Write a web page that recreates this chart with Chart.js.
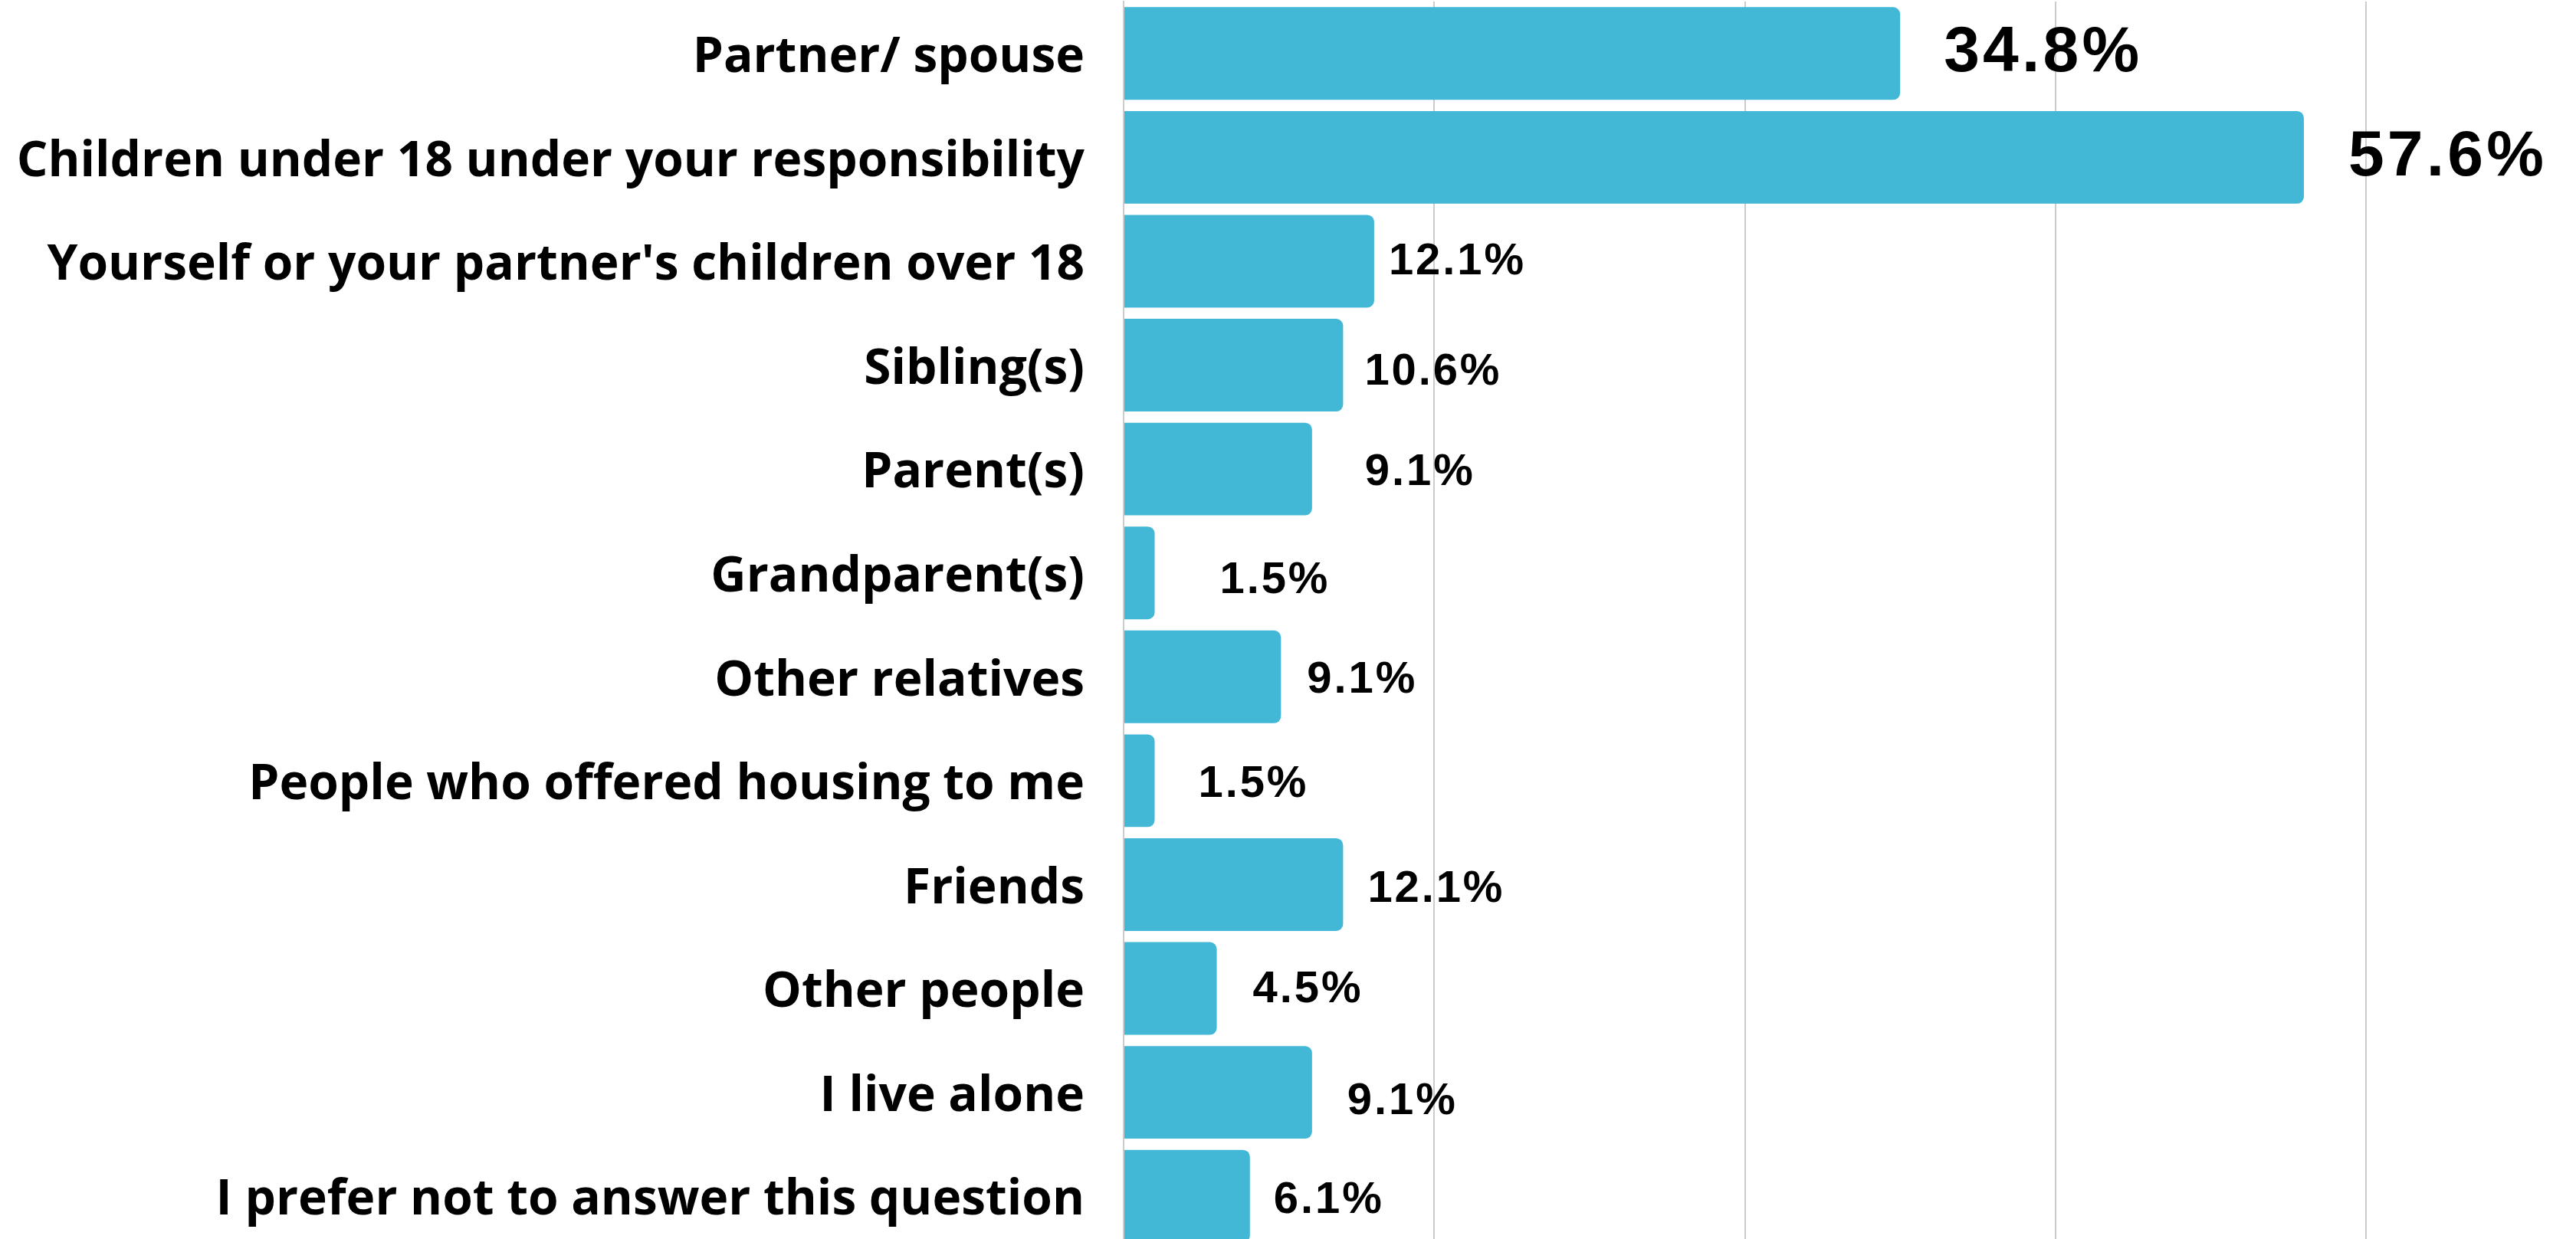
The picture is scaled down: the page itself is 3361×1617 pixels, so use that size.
<!DOCTYPE html>
<html>
<head>
<meta charset="utf-8">
<script src="https://cdn.jsdelivr.net/npm/chart.js@4"></script>
<style>
  html, body { margin: 0; padding: 0; background: #fff; overflow: hidden; }
  #wrap { width: 3361px; height: 1629px; }
</style>
</head>
<body>
<div id="wrap"><canvas id="barCanvas"></canvas></div>
<script>
const categories = [
    'Partner/ spouse',
    'Children under 18 under your responsibility',
    "Yourself or your partner's children over 18",
    'Sibling(s)',
    'Parent(s)',
    'Grandparent(s)',
    'Other relatives',
    'People who offered housing to me',
    'Friends',
    'Other people',
    'I live alone',
    'I prefer not to answer this question'
];

// bar lengths as drawn in the picture (percent)
const barValues = [37.5, 57.0, 12.1, 10.6, 9.1, 1.5, 7.6, 1.5, 10.6, 4.5, 9.1, 6.1];

// the figures printed next to the bars
const valueLabels = ['34.8%', '57.6%', '12.1%', '10.6%', '9.1%', '1.5%', '9.1%', '1.5%', '12.1%', '4.5%', '9.1%', '6.1%'];

const xTicks = [0, 15, 30, 45, 60];

const valueLabelPlugin = {
    id: 'valueLabels',
    afterDatasetsDraw(chart, args, opts) {
        const ctx = chart.ctx;
        const bars = chart.getDatasetMeta(0).data;
        ctx.save();
        ctx.fillStyle = '#000';
        ctx.textAlign = 'left';
        ctx.textBaseline = 'alphabetic';
        bars.forEach((bar, i) => {
            const size = opts.sizes[i];
            ctx.font = `bold ${size}px "Liberation Sans", Arial, sans-serif`;
            ctx.letterSpacing = (size * 0.05) + 'px';
            const capH = size * 0.716;
            ctx.fillText(valueLabels[i], bar.x + opts.gaps[i], bar.y + opts.shifts[i] + capH / 2);
        });
        ctx.restore();
    }
};

const barCanvas = document.getElementById('barCanvas').getContext('2d');

new Chart(barCanvas, {
    type: 'bar',
    data: {
        labels: categories,
        datasets: [{
            data: barValues,
            backgroundColor: '#42b8d6',
            borderSkipped: false,
            borderRadius: { topLeft: 0, bottomLeft: 0, topRight: 9, bottomRight: 9 },
            categoryPercentage: 1,
            barPercentage: 0.892
        }]
    },
    plugins: [valueLabelPlugin],
    options: {
        indexAxis: 'y',
        responsive: true,
        maintainAspectRatio: false,
        animation: false,
        layout: {
            padding: { top: 2, right: 274, bottom: 0, left: 0 }
        },
        plugins: {
            legend: { display: false },
            tooltip: { enabled: false },
            valueLabels: {
                sizes: [84, 84, 58, 58, 58, 58, 58, 58, 58, 58, 58, 58],
                gaps: [57, 58, 19, 28, 69, 85, 34, 57, 32, 47, 46, 31],
                shifts: [-7, -6, -4, 5, 0, 6, 0, 0, 2, -3, 8, 1]
            }
        },
        scales: {
            x: {
                min: 0,
                max: 60,
                afterBuildTicks: (scale) => {
                    scale.ticks = xTicks.map(v => ({ value: v }));
                },
                afterFit: (scale) => {
                    scale.height = 0;
                    scale.paddingLeft = 0;
                    scale.paddingRight = 0;
                },
                ticks: { display: false },
                grid: {
                    color: '#cccccc',
                    lineWidth: 2,
                    drawTicks: false
                },
                border: { display: false }
            },
            y: {
                afterFit: (scale) => {
                    scale.width = 1466;
                    scale.paddingTop = 0;
                    scale.paddingBottom = 0;
                },
                ticks: {
                    color: '#000',
                    padding: 51,
                    labelOffset: 6,
                    font: {
                        family: '"Open Sans", sans-serif',
                        weight: 'bold',
                        size: 64
                    }
                },
                grid: { display: false, drawTicks: false },
                border: { display: true, color: '#cccccc', width: 2 }
            }
        }
    }
});
</script>
</body>
</html>
